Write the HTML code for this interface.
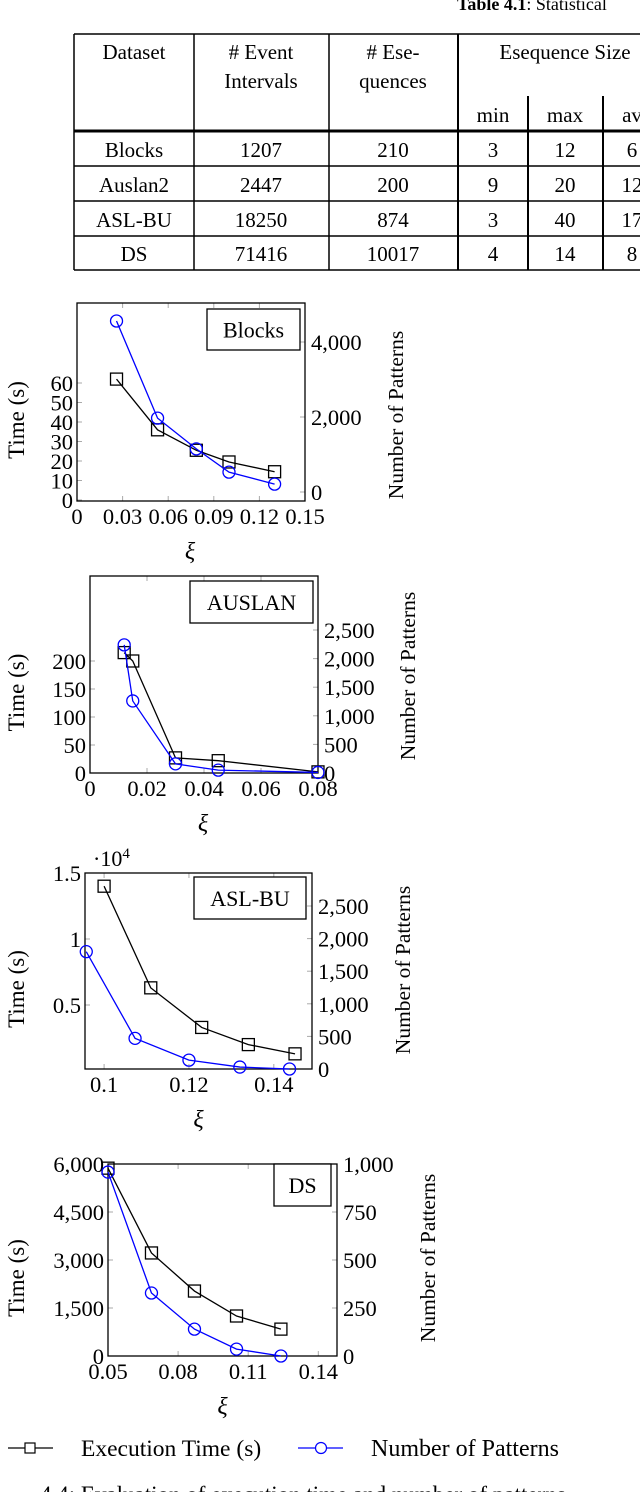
<!DOCTYPE html>
<html><head><meta charset="utf-8"><style>
html,body{margin:0;padding:0;background:#fff;}
svg{display:block;font-family:"Liberation Serif",serif;}
</style></head><body>
<svg id="s" width="640" height="1492" viewBox="0 0 640 1492">
<g><text x="457" y="10" font-size="18"><tspan font-weight="bold">Table 4.1</tspan>: Statistical</text></g>
<g id="tbl" stroke="#000" fill="none" stroke-width="1.5">
<line x1="74" y1="34" x2="640" y2="34"/>
<line x1="74" y1="131" x2="640" y2="131" stroke-width="3"/>
<line x1="74" y1="166" x2="640" y2="166"/>
<line x1="74" y1="201" x2="640" y2="201"/>
<line x1="74" y1="236" x2="640" y2="236"/>
<line x1="74" y1="270" x2="640" y2="270"/>
<line x1="74" y1="34" x2="74" y2="270"/>
<line x1="194" y1="34" x2="194" y2="270"/>
<line x1="329" y1="34" x2="329" y2="270"/>
<line x1="458" y1="34" x2="458" y2="270" stroke-width="2"/>
<line x1="528" y1="96" x2="528" y2="270" stroke-width="2"/>
<line x1="603" y1="96" x2="603" y2="270" stroke-width="2"/>
</g>
<g font-size="21" text-anchor="middle" fill="#000">
<text x="134" y="59">Dataset</text>
<text x="261" y="59"># Event</text><text x="261" y="88">Intervals</text>
<text x="393" y="59"># Ese-</text><text x="393" y="88">quences</text>
<text x="565" y="59">Esequence Size</text>
<text x="493" y="122">min</text><text x="565" y="122">max</text><text x="632" y="122">av</text>
<text x="134" y="157">Blocks</text><text x="261" y="157">1207</text><text x="393" y="157">210</text><text x="493" y="157">3</text><text x="565" y="157">12</text><text x="632" y="157">6</text>
<text x="134" y="192">Auslan2</text><text x="261" y="192">2447</text><text x="393" y="192">200</text><text x="493" y="192">9</text><text x="565" y="192">20</text><text x="632" y="192">12</text>
<text x="134" y="227">ASL-BU</text><text x="261" y="227">18250</text><text x="393" y="227">874</text><text x="493" y="227">3</text><text x="565" y="227">40</text><text x="632" y="227">17</text>
<text x="134" y="261">DS</text><text x="261" y="261">71416</text><text x="393" y="261">10017</text><text x="493" y="261">4</text><text x="565" y="261">14</text><text x="632" y="261">8</text>
</g>
<g id="charts"></g>
<g>
<g>
<line x1="8" y1="1448" x2="53" y2="1448" stroke="#000" stroke-width="1.2"/>
<rect x="25" y="1443" width="10" height="10" fill="#fff" stroke="#000" stroke-width="1.2"/>
<text x="81" y="1456" font-size="23.5">Execution Time (s)</text></g>
<g>
<line x1="298" y1="1448" x2="343" y2="1448" stroke="#00f" stroke-width="1.2"/>
<circle cx="321" cy="1448" r="5.5" fill="#fff" stroke="#00f" stroke-width="1.2"/>
<text x="371" y="1456" font-size="24">Number of Patterns</text></g>
</g>
<text x="40" y="1502" font-size="23">4.4: Evaluation of execution time and number of patterns</text>
</svg>
<script>
// Blocks
const blocksX = [0.026, 0.053, 0.0785, 0.1, 0.13];
const blocksTime = [62, 36, 25.5, 19.5, 14.5];
const blocksPat = [4560, 1970, 1150, 530, 210];
const blocksXTicks = [0, 0.03, 0.06, 0.09, 0.12, 0.15];
const blocksXLabels = ["0","0.03","0.06","0.09","0.12","0.15"];
const blocksLTicks = [0,10,20,30,40,50,60];
const blocksLLabels = ["0","10","20","30","40","50","60"];
const blocksRTicks = [0,2000,4000];
const blocksRLabels = ["0","2,000","4,000"];
// AUSLAN
const auslanTimeX = [0.012, 0.015, 0.03, 0.045, 0.08];
const auslanTime = [215, 200, 27, 22, 2];
const auslanPatX = [0.012, 0.015, 0.03, 0.045, 0.08];
const auslanPat = [2240, 1260, 160, 50, 10];
const auslanXTicks = [0,0.02,0.04,0.06,0.08];
const auslanXLabels = ["0","0.02","0.04","0.06","0.08"];
const auslanLTicks = [0,50,100,150,200];
const auslanLLabels = ["0","50","100","150","200"];
const auslanRTicks = [0,500,1000,1500,2000,2500];
const auslanRLabels = ["0","500","1,000","1,500","2,000","2,500"];
// ASL-BU
const aslTimeX = [0.1, 0.111, 0.123, 0.134, 0.145];
const aslTime = [1.4, 0.63, 0.33, 0.2, 0.13];
const aslPatX = [0.0958, 0.1073, 0.12, 0.132, 0.1437];
const aslPat = [1800, 470, 136, 30, 0];
const aslXTicks = [0.1,0.12,0.14];
const aslXLabels = ["0.1","0.12","0.14"];
const aslLTicks = [0.5,1,1.5];
const aslLLabels = ["0.5","1","1.5"];
const aslRTicks = [0,500,1000,1500,2000,2500];
const aslRLabels = ["0","500","1,000","1,500","2,000","2,500"];
// DS
const dsX = [0.05, 0.0686, 0.087, 0.105, 0.124];
const dsTime = [5870, 3220, 2030, 1250, 840];
const dsPat = [958, 328, 140, 36, 0];
const dsXTicks = [0.05,0.08,0.11,0.14];
const dsXLabels = ["0.05","0.08","0.11","0.14"];
const dsLTicks = [0,1500,3000,4500,6000];
const dsLLabels = ["0","1,500","3,000","4,500","6,000"];
const dsRTicks = [0,250,500,750,1000];
const dsRLabels = ["0","250","500","750","1,000"];

const NS="http://www.w3.org/2000/svg";
const root=document.getElementById('charts');
function mk(tag,attrs,parent){const e=document.createElementNS(NS,tag);for(const k in attrs)e.setAttribute(k,attrs[k]);parent.appendChild(e);return e;}
function chart(c){
  const g=mk('g',{},root);
  
  
  const sx=v=>c.x0+(v-c.xd[0])/(c.xd[1]-c.xd[0])*(c.x1-c.x0);
  const sl=v=>c.lb+(v-c.ld[0])/(c.ld[1]-c.ld[0])*(c.lt-c.lb);
  const sr=v=>c.rb+(v-c.rd[0])/(c.rd[1]-c.rd[0])*(c.rt-c.rb);
  c.xt.forEach((t,i)=>{const x=sx(t);
    mk('line',{x1:x,y1:c.y0,x2:x,y2:c.y0+5,stroke:'#aaa','stroke-width':1},g);
    mk('line',{x1:x,y1:c.y1,x2:x,y2:c.y1-5,stroke:'#aaa','stroke-width':1},g);
    const tx=mk('text',{x:x,y:c.y1+23,'font-size':22.5,'text-anchor':'middle'},g);tx.textContent=c.xl[i];
    
    });
  c.lt_.forEach((t,i)=>{const y=sl(t);
    mk('line',{x1:c.x0,y1:y,x2:c.x0+5,y2:y,stroke:'#aaa'},g);
    const tx=mk('text',{x:c.x0-4,y:y+8,'font-size':22.5,'text-anchor':'end'},g);tx.textContent=c.ll[i];
    
    });
  c.rt_.forEach((t,i)=>{const y=sr(t);
    mk('line',{x1:c.x1,y1:y,x2:c.x1-5,y2:y,stroke:'#aaa'},g);
    const tx=mk('text',{x:c.x1+6,y:y+8,'font-size':22.5},g);tx.textContent=c.rl[i];
    
    });
  const box=mk('rect',{x:c.x0,y:c.y0,width:c.x1-c.x0,height:c.y1-c.y0,fill:'none',stroke:'#000','stroke-width':1.3},g);
  
  
  const yl=mk('text',{transform:`translate(${c.ylx},${(c.y0+c.y1)/2+18}) rotate(-90)`,'font-size':23,'text-anchor':'middle'},g);yl.textContent='Time (s)';
  
  
  const yr=mk('text',{transform:`translate(${c.yrx},${c.yry}) rotate(-90)`,'font-size':21.5,'text-anchor':'middle'},g);yr.textContent='Number of Patterns';
  
  
  const xl=mk('text',{x:(c.x0+c.x1)/2+c.xio,y:c.y1+58,'font-size':24,'text-anchor':'middle','font-style':'italic'},g);xl.textContent='ξ';
  
  
  if(c.exp){const e=mk('text',{x:c.exp[0],y:c.exp[1],'font-size':22},g);e.innerHTML='·10<tspan dy="-8" font-size="15">4</tspan>';
    
    }
  const lb=mk('rect',{x:c.lab[0],y:c.lab[1],width:c.lab[2],height:c.lab[3],fill:'#fff',stroke:'#000','stroke-width':1.3},g);
  
  
  const lt=mk('text',{x:c.lab[0]+c.lab[2]/2,y:c.lab[1]+c.lab[3]/2+8,'font-size':22,'text-anchor':'middle'},g);lt.textContent=c.title;
  
  
  const pt=c.tx.map((v,i)=>sx(v)+','+sl(c.tv[i])).join(' ');
  const l1=mk('polyline',{points:pt,fill:'none',stroke:'#000','stroke-width':1.3},g);
  
  
  c.tx.forEach((v,i)=>{const r=mk('rect',{x:sx(v)-6,y:sl(c.tv[i])-6,width:12,height:12,fill:'none',stroke:'#000','stroke-width':1.3},g);
    
    });
  const pp=c.px.map((v,i)=>sx(v)+','+sr(c.pv[i])).join(' ');
  const l2=mk('polyline',{points:pp,fill:'none',stroke:'#00f','stroke-width':1.3},g);
  
  
  c.px.forEach((v,i)=>{const r=mk('circle',{cx:sx(v),cy:sr(c.pv[i]),r:6,fill:'none',stroke:'#00f','stroke-width':1.3},g);
    
    });
}
chart({name:'blocks-chart',title:'Blocks',x0:77,x1:305,y0:303,y1:501,xd:[0,0.15],ld:[0,60],lb:500,lt:383,rd:[0,4000],rb:492,rt:342,
  xt:blocksXTicks,xl:blocksXLabels,lt_:blocksLTicks,ll:blocksLLabels,rt_:blocksRTicks,rl:blocksRLabels,
  tx:blocksX,tv:blocksTime,px:blocksX,pv:blocksPat,ylx:24,yrx:403,yry:415,xio:-1,lab:[207,309,93,41]});
chart({name:'auslan-chart',title:'AUSLAN',x0:90,x1:318,y0:576,y1:773,xd:[0,0.08],ld:[0,200],lb:773,lt:661,rd:[0,2500],rb:773,rt:630,
  xt:auslanXTicks,xl:auslanXLabels,lt_:auslanLTicks,ll:auslanLLabels,rt_:auslanRTicks,rl:auslanRLabels,
  tx:auslanTimeX,tv:auslanTime,px:auslanPatX,pv:auslanPat,ylx:24,yrx:415,yry:676,xio:-1,lab:[190,581,123,42]});
chart({name:'asl-bu-chart',title:'ASL-BU',x0:85,x1:312,y0:873,y1:1069,xd:[0.0955,0.149],ld:[0,1.5],lb:1071,lt:873,rd:[0,2500],rb:1069,rt:906,
  xt:aslXTicks,xl:aslXLabels,lt_:aslLTicks,ll:aslLLabels,rt_:aslRTicks,rl:aslRLabels,
  tx:aslTimeX,tv:aslTime,px:aslPatX,pv:aslPat,ylx:24,yrx:410,yry:970,xio:0,exp:[93,866],lab:[194,877,112,42]});
chart({name:'ds-chart',title:'DS',x0:108,x1:337,y0:1164,y1:1356,xd:[0.05,0.148],ld:[0,6000],lb:1356,lt:1164,rd:[0,1000],rb:1356,rt:1164,
  xt:dsXTicks,xl:dsXLabels,lt_:dsLTicks,ll:dsLLabels,rt_:dsRTicks,rl:dsRLabels,
  tx:dsX,tv:dsTime,px:dsX,pv:dsPat,ylx:24,yrx:435,yry:1258,xio:0,lab:[274,1164,57,42]});
</script>
</body></html>
